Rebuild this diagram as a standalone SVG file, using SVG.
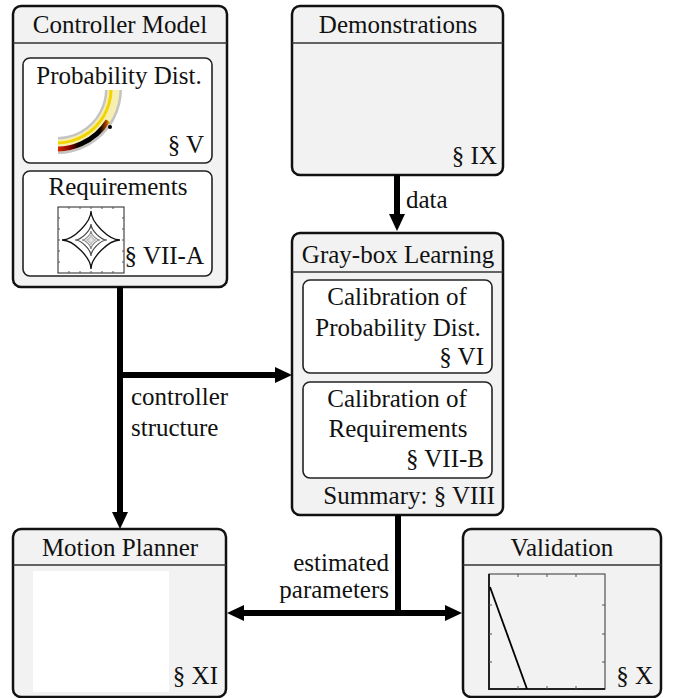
<svg xmlns="http://www.w3.org/2000/svg" width="675" height="698" viewBox="0 0 675 698">
<style>
text{font-family:'Liberation Serif','Times New Roman',serif;font-size:25px;fill:#111}
.m{text-anchor:middle}
.e{text-anchor:end}
.outer{fill:#f2f2f2;stroke:#111;stroke-width:2.5}
.hdr{stroke:#333;stroke-width:1.5;fill:none}
.inner{fill:#fff;stroke:#222;stroke-width:1.6}
.conn{fill:none;stroke:#000;stroke-width:6}
.tick{stroke:#555;stroke-width:1}
</style>
<defs>
<marker id="ah" viewBox="0 0 17 16" refX="5" refY="8" markerWidth="17" markerHeight="16" markerUnits="userSpaceOnUse" orient="auto-start-reverse"><path d="M0,0 L17,8 L0,16 z" fill="#000"/></marker>
<clipPath id="ringclip"><rect x="58" y="90" width="66" height="64"/></clipPath>
<linearGradient id="hot" gradientUnits="userSpaceOnUse" x1="58" y1="0" x2="110" y2="0">
<stop offset="0" stop-color="#d82800"/><stop offset="0.25" stop-color="#7a0000"/><stop offset="0.4" stop-color="#000"/><stop offset="0.8" stop-color="#000"/><stop offset="0.93" stop-color="#b04000"/><stop offset="1" stop-color="#f0d000"/>
</linearGradient>
</defs>

<g id="controller-model">
<rect class="outer" x="13" y="6" width="214" height="281" rx="8"/>
<line class="hdr" x1="13" y1="43" x2="227" y2="43"/>
<text class="m" x="120" y="33">Controller Model</text>
</g>
<g id="probability-dist">
<rect class="inner" x="23" y="58" width="189" height="105" rx="7"/>
<text class="m" x="119" y="84">Probability Dist.</text>
<g clip-path="url(#ringclip)">
<path d="M111.57,74.38 A56.5,56.5 0 0 1 42.38,143.57" fill="none" stroke="#c4c4c4" stroke-width="17"/>
<path d="M111.57,74.38 A56.5,56.5 0 0 1 42.38,143.57" fill="none" stroke="#f7efb0" stroke-width="12"/>
<path d="M109.16,75.02 A54,54 0 0 1 43.02,141.16" fill="none" stroke="#f2d400" stroke-width="3"/>
<path d="M107.88,120.80 A60,60 0 0 1 46.58,148.09" fill="none" stroke="url(#hot)" stroke-width="5"/>
</g>
<circle cx="110" cy="127" r="2" fill="#000"/>
<text class="e" x="204" y="153">§ V</text>
</g>
<g id="requirements">
<rect class="inner" x="23" y="171" width="189" height="105" rx="7"/>
<text class="m" x="118" y="195">Requirements</text>
<rect x="58" y="207" width="66" height="66" fill="#fff" stroke="#222" stroke-width="1"/>
<g class="tick">
<path d="M69,207v2M80,207v2M91,207v2M102,207v2M113,207v2M69,273v-2M80,273v-2M91,273v-2M102,273v-2M113,273v-2M58,218h2M58,229h2M58,240h2M58,251h2M58,262h2M124,218h-2M124,229h-2M124,240h-2M124,251h-2M124,262h-2"/>
</g>
<path d="M120,240 C108.7,240 91,222.3 91,211 C91,222.3 73.3,240 62,240 C73.3,240 91,257.7 91,269 C91,257.7 108.7,240 120,240Z" fill="none" stroke="#111" stroke-width="1.3"/>
<path d="M107,240 C100.76,240 91,230.24 91,224 C91,230.24 81.24,240 75,240 C81.24,240 91,249.76 91,256 C91,249.76 100.76,240 107,240Z" fill="none" stroke="#444" stroke-width="1.2"/>
<path d="M100,240 C96.49,240 91,234.51 91,231 C91,234.51 85.51,240 82,240 C85.51,240 91,245.51 91,249 C91,245.51 96.49,240 100,240Z" fill="none" stroke="#888" stroke-width="1.2"/>
<path d="M96,240 C94.05,240 91,236.95 91,235 C91,236.95 87.95,240 86,240 C87.95,240 91,243.05 91,245 C91,243.05 94.05,240 96,240Z" fill="#e4e4e4" stroke="#bbb" stroke-width="1.2"/>
<text class="e" x="204" y="264">§ VII-A</text>
</g>

<g id="demonstrations">
<rect class="outer" x="292" y="6" width="211" height="169" rx="8"/>
<line class="hdr" x1="292" y1="43" x2="503" y2="43"/>
<text class="m" x="398" y="33">Demonstrations</text>
<text class="e" x="497" y="164">§ IX</text>
</g>

<g id="gray-box-learning">
<rect class="outer" x="292" y="233" width="211" height="282" rx="8"/>
<line class="hdr" x1="292" y1="272" x2="503" y2="272"/>
<text class="m" x="398" y="263">Gray-box Learning</text>
<text class="e" x="495" y="504">Summary: § VIII</text>
</g>
<g id="calibration-prob">
<rect class="inner" x="303" y="280" width="189" height="93" rx="7"/>
<text class="m" x="397" y="305">Calibration of</text>
<text class="m" x="398" y="336">Probability Dist.</text>
<text class="e" x="484" y="365">§ VI</text>
</g>
<g id="calibration-req">
<rect class="inner" x="303" y="382" width="189" height="96" rx="7"/>
<text class="m" x="397" y="407">Calibration of</text>
<text class="m" x="398" y="437">Requirements</text>
<text class="e" x="484" y="467">§ VII-B</text>
</g>

<g id="motion-planner">
<rect class="outer" x="13" y="529" width="213" height="168" rx="8"/>
<line class="hdr" x1="13" y1="565" x2="226" y2="565"/>
<text class="m" x="120" y="556">Motion Planner</text>
<rect x="33" y="571" width="136" height="121" fill="#fff"/>
<text class="e" x="218" y="684">§ XI</text>
</g>

<g id="validation">
<rect class="outer" x="463" y="529" width="198" height="168" rx="8"/>
<line class="hdr" x1="463" y1="565" x2="661" y2="565"/>
<text class="m" x="562" y="556">Validation</text>
<rect x="489" y="574" width="116" height="115" fill="none" stroke="#333" stroke-width="1"/>
<path d="M489,574 V689 H605" fill="none" stroke="#222" stroke-width="2"/>
<g class="tick">
<path d="M518,574v3M547,574v3M576,574v3M518,689v-3M547,689v-3M576,689v-3M489,605h3M489,634h3M489,662h3M605,605h-3M605,634h-3M605,662h-3"/>
</g>
<line x1="490" y1="587" x2="527" y2="689" stroke="#000" stroke-width="1.8"/>
<text class="e" x="653" y="684">§ X</text>
</g>

<g id="connectors">
<path class="conn" d="M120,287 V517" marker-end="url(#ah)"/>
<path class="conn" d="M120,375 H280" marker-end="url(#ah)"/>
<path class="conn" d="M397,175 V219" marker-end="url(#ah)"/>
<path class="conn" d="M398,515 V616"/>
<path class="conn" d="M239,613 H450" marker-start="url(#ah)" marker-end="url(#ah)"/>
<text x="406" y="208">data</text>
<text x="131" y="405">controller</text>
<text x="131" y="436">structure</text>
<text class="e" x="389" y="571">estimated</text>
<text class="e" x="389" y="598">parameters</text>
</g>
</svg>
